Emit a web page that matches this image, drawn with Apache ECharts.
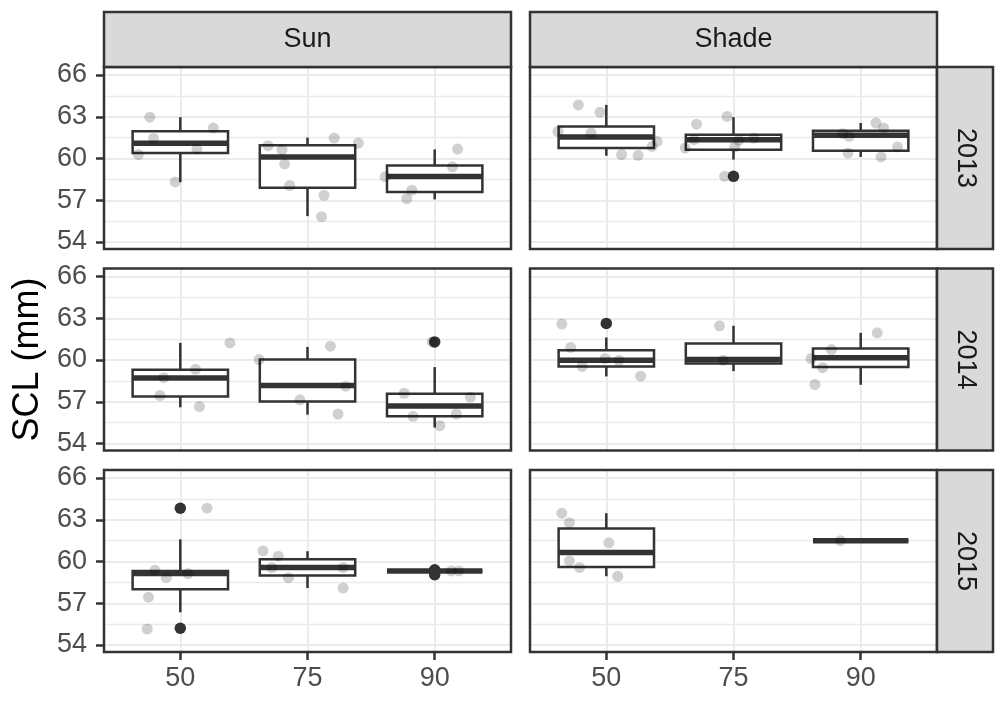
<!DOCTYPE html>
<html lang="en">
<head>
    <meta charset="UTF-8">
    <title>SCL by canopy</title>
    <script src="https://cdn.jsdelivr.net/npm/echarts@6/dist/echarts.min.js"></script>
    <style>
        body { margin: 0; background: #fff; }
    </style>
</head>
<body>
    <div id="main" style="width: 1001px;height: 708px;"></div>

    <script>
        var canopy = ['50', '75', '90'];
        var years = ['2013', '2014', '2015'];
        var lights = ['Sun', 'Shade'];

        // box stats: [category, lower whisker, q1, median, q3, upper whisker]
        var sun2013Box = [[1, 58.3, 60.4, 61.1, 61.95, 62.97], [2, 55.86, 57.9, 60.1, 60.95, 61.5], [3, 57.06, 57.6, 58.7, 59.5, 60.65]];
        var shade2013Box = [[1, 60.2, 60.75, 61.54, 62.3, 63.85], [2, 59.92, 60.63, 61.35, 61.71, 62.97], [3, 60.11, 60.56, 61.67, 61.99, 62.55]];
        var sun2014Box = [[1, 56.6, 57.37, 58.7, 59.3, 61.23], [2, 56.07, 57.01, 58.17, 60.03, 60.94], [3, 55.15, 55.95, 56.7, 57.57, 59.49]];
        var shade2014Box = [[1, 58.82, 59.54, 59.98, 60.7, 61.62], [2, 59.2, 59.74, 60.03, 61.18, 62.46], [3, 58.22, 59.49, 60.17, 60.82, 61.95]];
        var sun2015Box = [[1, 56.35, 58.0, 59.13, 59.32, 61.59], [2, 58.09, 59.0, 59.56, 60.16, 60.74], [3, 59.32, 59.32, 59.32, 59.32, 59.32]];
        var shade2015Box = [[1, 58.94, 59.61, 60.65, 62.38, 63.47], [3, 61.49, 61.49, 61.49, 61.49, 61.49]];

        // outliers: [category, SCL]
        var sun2013Out = [];
        var shade2013Out = [[2, 58.72]];
        var sun2014Out = [[3, 61.3]];
        var shade2014Out = [[1, 62.63]];
        var sun2015Out = [[1, 63.83], [1, 55.2], [3, 59.05], [3, 59.4]];
        var shade2015Out = [];

        // jittered observations: [x position, SCL]
        var sun2013Pts = [[0.76, 62.97], [0.79, 61.44], [0.67, 60.28], [0.96, 58.32], [1.13, 60.68], [1.26, 62.19],
            [1.69, 60.92], [1.80, 60.63], [1.82, 59.61], [1.86, 58.06], [2.13, 57.36], [2.11, 55.82], [2.21, 61.47], [2.40, 61.11],
            [2.61, 58.68], [2.82, 57.72], [2.78, 57.11], [3.14, 59.40], [3.18, 60.68]];
        var shade2013Pts = [[0.78, 63.85], [0.95, 63.33], [0.62, 61.94], [0.88, 61.83], [1.12, 60.28], [1.25, 60.23], [1.36, 60.87], [1.40, 61.23],
            [1.71, 62.47], [1.95, 63.02], [1.62, 60.75], [1.69, 61.35], [2.04, 61.30], [2.16, 61.47], [1.93, 58.72], [2.01, 60.83],
            [2.86, 61.78], [2.91, 61.59], [2.90, 60.40], [3.12, 62.55], [3.18, 62.19], [3.16, 60.11], [3.29, 60.83]];
        var sun2014Pts = [[0.84, 57.45], [0.87, 58.73], [1.12, 59.33], [1.15, 56.65], [1.39, 61.23],
            [1.62, 60.03], [1.94, 57.14], [2.18, 60.99], [2.30, 58.12], [2.24, 56.12],
            [2.76, 57.61], [2.83, 55.95], [2.98, 61.30], [3.04, 55.28], [3.17, 56.12], [3.28, 57.32]];
        var shade2014Pts = [[0.65, 62.58], [0.72, 60.90], [0.81, 59.54], [0.99, 60.10], [1.10, 59.98], [1.27, 58.84],
            [1.89, 62.46], [1.92, 59.98],
            [2.61, 60.10], [2.70, 59.45], [2.77, 60.75], [2.64, 58.24], [3.13, 61.95]];
        var sun2015Pts = [[0.80, 59.37], [0.89, 58.84], [0.75, 57.44], [0.74, 55.15], [1.21, 63.83], [1.06, 59.13],
            [1.65, 60.76], [1.77, 60.38], [1.72, 59.56], [1.85, 58.84], [2.28, 59.56], [2.28, 58.09],
            [3.13, 59.32], [3.19, 59.32]];
        var shade2015Pts = [[0.65, 63.47], [0.71, 62.79], [0.71, 60.04], [0.79, 59.56], [1.02, 61.34], [1.09, 58.94],
            [2.84, 61.5]];

        var panels = [
            [sun2013Box, sun2013Out, sun2013Pts], [shade2013Box, shade2013Out, shade2013Pts],
            [sun2014Box, sun2014Out, sun2014Pts], [shade2014Box, shade2014Out, shade2014Pts],
            [sun2015Box, sun2015Out, sun2015Pts], [shade2015Box, shade2015Out, shade2015Pts]
        ];

        // layout (px)
        var colLeft = [104, 530], panelW = 407;
        var rowTop = [67, 268.5, 470], panelH = 182;
        var innerOff = 8, innerH = 167;
        var stripTop = 12, stripW = 56;
        var FONT = '"Liberation Sans", Arial, sans-serif';
        var INK = '#333333';
        var GRID = '#EBEBEB';

        function renderBox(params, api) {
            var x = api.value(0);
            var half = api.size([0.75, 0])[0] / 2;
            var lo = api.coord([x, api.value(1)]);
            var q1 = api.coord([x, api.value(2)]);
            var md = api.coord([x, api.value(3)]);
            var q3 = api.coord([x, api.value(4)]);
            var hi = api.coord([x, api.value(5)]);
            return {
                type: 'group',
                children: [
                    { type: 'line', shape: { x1: hi[0], y1: hi[1], x2: q3[0], y2: q3[1] }, style: { stroke: INK, lineWidth: 2.5 } },
                    { type: 'line', shape: { x1: q1[0], y1: q1[1], x2: lo[0], y2: lo[1] }, style: { stroke: INK, lineWidth: 2.5 } },
                    { type: 'rect', shape: { x: q3[0] - half, y: q3[1], width: 2 * half, height: q1[1] - q3[1] },
                      style: { fill: '#fff', stroke: INK, lineWidth: 2.5 } },
                    { type: 'line', shape: { x1: md[0] - half, y1: md[1], x2: md[0] + half, y2: md[1] },
                      style: { stroke: INK, lineWidth: 5.5 } }
                ]
            };
        }

        function buildOption() {
            var grid = [], xAxis = [], yAxis = [], series = [], shapes = [];

            for (var r = 0; r < 3; r++) {
                for (var c = 0; c < 2; c++) {
                    var p = r * 2 + c;
                    var frameIdx = 2 * p, innerIdx = 2 * p + 1;
                    var pLeft = colLeft[c], pTop = rowTop[r];

                    // frame grid: vertical grid lines and x ticks over the full panel
                    grid.push({ left: pLeft, top: pTop, width: panelW, height: panelH, outerBoundsMode: 'none' });
                    xAxis.push({
                        type: 'value', gridIndex: frameIdx, min: 0.4, max: 3.6,
                        axisLine: { show: false },
                        axisTick: { show: r === 2, customValues: [1, 2, 3], length: 8, lineStyle: { color: INK, width: 2.5 } },
                        axisLabel: {
                            show: r === 2, customValues: [1, 2, 3], margin: 13,
                            formatter: function (v) { return canopy[Math.round(v) - 1]; },
                            fontSize: 27, fontFamily: FONT, color: '#4D4D4D'
                        },
                        splitLine: { show: true, lineStyle: { color: GRID, width: 2 } }
                    });
                    yAxis.push({ type: 'value', gridIndex: frameIdx, min: 0, max: 1, show: false });

                    // inner grid: the 54..66 band, horizontal grid lines and the data
                    grid.push({ left: pLeft, top: pTop + innerOff, width: panelW, height: innerH, outerBoundsMode: 'none' });
                    xAxis.push({ type: 'value', gridIndex: innerIdx, min: 0.4, max: 3.6, show: false });
                    yAxis.push({
                        type: 'value', gridIndex: innerIdx, min: 54, max: 66, interval: 3,
                        axisLine: { show: false },
                        axisTick: { show: c === 0, length: 8, lineStyle: { color: INK, width: 2.5 } },
                        axisLabel: { show: c === 0, margin: 17, fontSize: 27, fontFamily: FONT, color: '#4D4D4D' },
                        splitLine: { show: true, lineStyle: { color: GRID, width: 2 } },
                        minorTick: { show: false, splitNumber: 2 },
                        minorSplitLine: { show: true, lineStyle: { color: GRID, width: 1.3 } }
                    });

                    series.push({
                        type: 'custom', xAxisIndex: innerIdx, yAxisIndex: innerIdx,
                        renderItem: renderBox, data: panels[p][0], clip: false, z: 2,
                        encode: { x: 0, y: [1, 2, 3, 4, 5] }
                    });
                    series.push({
                        type: 'scatter', xAxisIndex: innerIdx, yAxisIndex: innerIdx, data: panels[p][1],
                        symbolSize: 11.5, itemStyle: { color: INK, opacity: 1 }, z: 3, silent: true
                    });
                    series.push({
                        type: 'scatter', xAxisIndex: innerIdx, yAxisIndex: innerIdx, data: panels[p][2],
                        symbolSize: 11, itemStyle: { color: 'rgba(0,0,0,0.23)' }, z: 4, silent: true
                    });

                    // panel border
                    shapes.push({
                        type: 'rect', z: 100, silent: true,
                        shape: { x: pLeft, y: pTop, width: panelW, height: panelH },
                        style: { fill: 'none', stroke: INK, lineWidth: 2.5 }
                    });
                }
            }

            // column strips
            for (var i = 0; i < 2; i++) {
                shapes.push({
                    type: 'rect', z: 100, silent: true,
                    shape: { x: colLeft[i], y: stripTop, width: panelW, height: rowTop[0] - stripTop },
                    style: { fill: '#D9D9D9', stroke: INK, lineWidth: 2.5 }
                });
                shapes.push({
                    type: 'text', z: 101, silent: true,
                    x: colLeft[i] + panelW / 2, y: (stripTop + rowTop[0]) / 2,
                    style: { text: lights[i], font: '27px ' + FONT, fill: '#1A1A1A', textAlign: 'center', textVerticalAlign: 'middle' }
                });
            }
            // row strips
            var sx = colLeft[1] + panelW;
            for (var j = 0; j < 3; j++) {
                shapes.push({
                    type: 'rect', z: 100, silent: true,
                    shape: { x: sx, y: rowTop[j], width: stripW, height: panelH },
                    style: { fill: '#D9D9D9', stroke: INK, lineWidth: 2.5 }
                });
                shapes.push({
                    type: 'text', z: 101, silent: true, rotation: -Math.PI / 2,
                    x: sx + stripW / 2, y: rowTop[j] + panelH / 2,
                    style: { text: years[j], font: '27px ' + FONT, fill: '#1A1A1A', textAlign: 'center', textVerticalAlign: 'middle' }
                });
            }
            // y axis title
            shapes.push({
                type: 'text', z: 101, silent: true, rotation: Math.PI / 2,
                x: 28, y: (rowTop[0] + rowTop[2] + panelH) / 2,
                style: { text: 'SCL (mm)', font: '36px ' + FONT, fill: '#000', textAlign: 'center', textVerticalAlign: 'middle' }
            });

            return {
                animation: false,
                backgroundColor: '#fff',
                grid: grid,
                xAxis: xAxis,
                yAxis: yAxis,
                series: series,
                graphic: shapes
            };
        }

        var myChart = echarts.init(document.getElementById('main'));
        myChart.setOption(buildOption());
    </script>
</body>
</html>
